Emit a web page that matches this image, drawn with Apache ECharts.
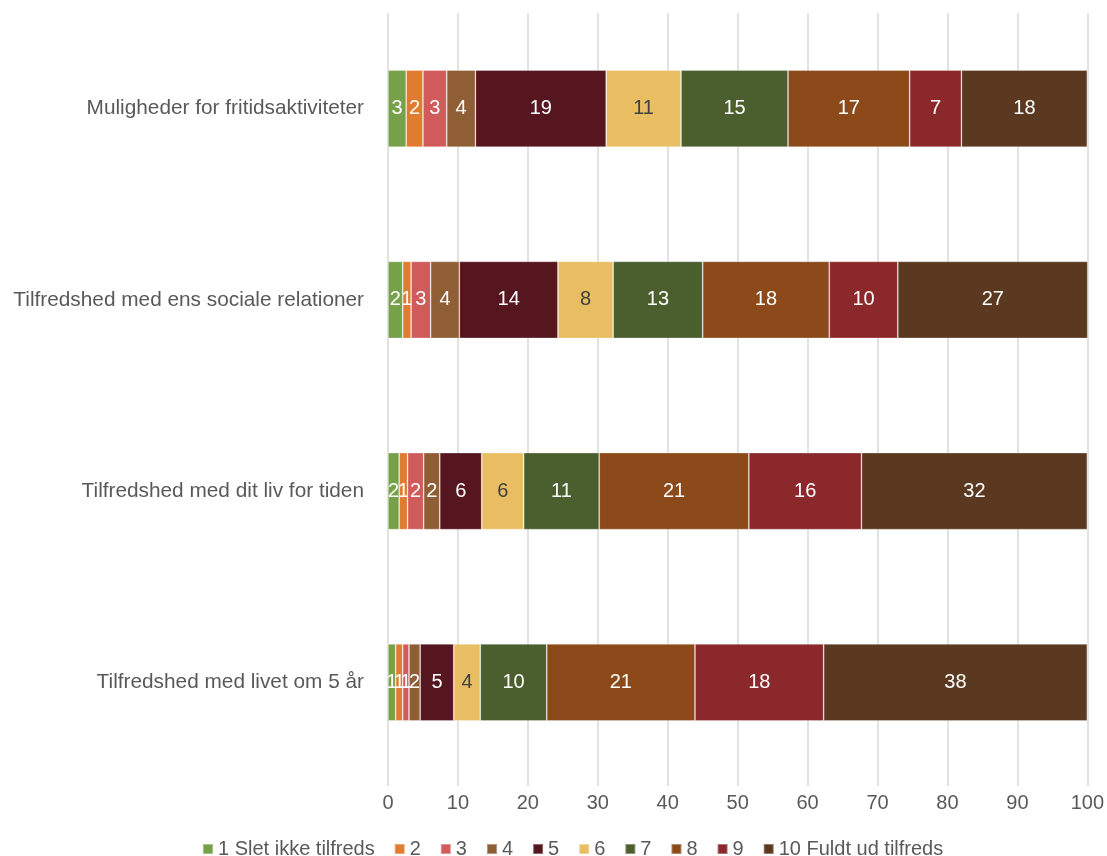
<!DOCTYPE html>
<html>
<head>
<meta charset="utf-8">
<script src="https://cdn.jsdelivr.net/npm/echarts@6/dist/echarts.min.js"></script>
<style>
  html, body { margin: 0; padding: 0; background: #fff; }
  #chart { width: 1107px; height: 856px; }
</style>
</head>
<body>
<div id="chart"></div>
<script>
// kategorier (oppefra og ned)
const categories = [
  'Muligheder for fritidsaktiviteter',
  'Tilfredshed med ens sociale relationer',
  'Tilfredshed med dit liv for tiden',
  'Tilfredshed med livet om 5 år'
]
const seriesNames = ['1 Slet ikke tilfreds', '2', '3', '4', '5', '6', '7', '8', '9', '10 Fuldt ud tilfreds']
const colors = ['#77a04a', '#e07b30', '#d15b5b', '#8f5e35', '#561620', '#e9be62', '#4a5e2e', '#8c4a1a', '#8b282b', '#5a3920']

// procent pr. svar (en liste pr. svarkategori, i samme rækkefølge som categories)
const s1 = [2.6, 2.1, 1.6, 1.1]
const s2 = [2.4, 1.2, 1.2, 1.0]
const s3 = [3.4, 2.8, 2.3, 0.9]
const s4 = [4.1, 4.1, 2.3, 1.6]
const s5 = [18.7, 14.1, 6.0, 4.8]
const s6 = [10.7, 7.9, 6.0, 3.8]
const s7 = [15.3, 12.8, 10.8, 9.5]
const s8 = [17.4, 18.1, 21.4, 21.2]
const s9 = [7.4, 9.8, 16.1, 18.4]
const s10 = [18.0, 27.2, 32.3, 37.7]
const allValues = [s1, s2, s3, s4, s5, s6, s7, s8, s9, s10]

const xTicks = [0, 10, 20, 30, 40, 50, 60, 70, 80, 90, 100]

const font = 'Liberation Sans, Arial, sans-serif'
const myChart = echarts.init(document.getElementById('chart'))

const series = allValues.map((vals, i) => {
  return {
    name: seriesNames[i],
    type: 'bar',
    stack: 'total',
    barWidth: 77,
    data: vals,
    itemStyle: {
      color: colors[i],
      borderColor: 'rgba(255,255,255,0.35)',
      borderWidth: 0.8
    },
    label: {
      show: true,
      position: 'inside',
      fontFamily: font,
      fontSize: 20,
      color: i === 5 ? '#404040' : '#ffffff',
      formatter: (p) => Math.round(p.value)
    }
  }
})

const option = {
  animation: false,
  color: colors,
  grid: {
    left: 388,
    right: 19,
    top: 13,
    bottom: 78
  },
  legend: {
    top: 834,
    left: 197,
    itemWidth: 10,
    itemHeight: 10,
    itemGap: 19,
    icon: 'rect',
    textStyle: { fontFamily: font, fontSize: 20, color: '#595959', padding: [0, 0, 0, 0] },
    data: seriesNames
  },
  xAxis: {
    type: 'value',
    min: xTicks[0],
    max: xTicks[xTicks.length - 1],
    interval: 10,
    axisLine: { show: false },
    axisTick: { show: true, length: 8, lineStyle: { color: '#d9d9d9', width: 1.5 } },
    splitLine: { show: true, lineStyle: { color: '#d9d9d9', width: 1.5 } },
    axisLabel: { fontFamily: font, fontSize: 20, color: '#595959', margin: 15 }
  },
  yAxis: {
    type: 'category',
    inverse: true,
    data: categories,
    axisLine: { show: false },
    axisTick: { show: false },
    axisLabel: { fontFamily: font, fontSize: 20.8, color: '#595959', margin: 24 }
  },
  series: series
}
myChart.setOption(option)
</script>
</body>
</html>
